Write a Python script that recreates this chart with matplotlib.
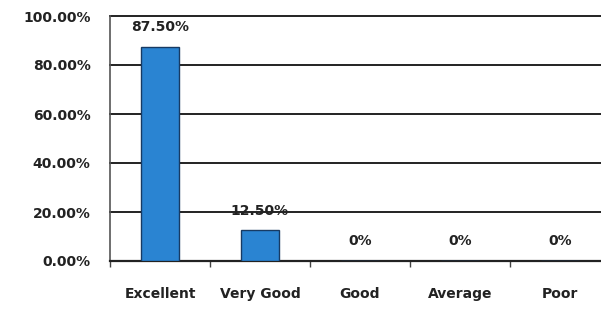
import matplotlib
matplotlib.use("Agg")
import matplotlib.pyplot as plt
from matplotlib.ticker import FuncFormatter, FixedLocator

categories = ["Excellent", "Very Good", "Good", "Average", "Poor"]
values = [0.875, 0.125, 0.0, 0.0, 0.0]
labels = ["87.50%", "12.50%", "0%", "0%", "0%"]
yticks = [0.0, 0.2, 0.4, 0.6, 0.8, 1.0]

plt.rcParams['font.family'] = ['DejaVu Sans']

fig = plt.figure(figsize=(6.01, 3.09), dpi=100)
ax = fig.add_axes([110/601, 1-261/309, 500/601, 245/309])

x = list(range(len(categories)))
ax.bar(x, values, width=0.38, color='#2a84d2', edgecolor='#173a63', linewidth=1.0, zorder=3)

ax.set_xlim(-0.5, 4.5)
ax.set_ylim(0, 1.0)
ax.set_yticks(yticks)
ax.yaxis.set_major_formatter(FuncFormatter(lambda v, p: f"{v*100:.2f}%"))
for t in yticks[1:]:
    ax.axhline(t, color='#222222', linewidth=1.4, zorder=1, clip_on=False)

fs = 10
ax.set_xticks(x)
ax.set_xticklabels(categories)
ax.xaxis.set_minor_locator(FixedLocator([i + 0.5 for i in range(-1, 5)]))
ax.tick_params(axis='x', which='major', length=0, pad=19, labelsize=fs)
ax.tick_params(axis='x', which='minor', length=4, width=1, color='#444444', direction='out')
ax.tick_params(axis='y', length=0, pad=14, labelsize=fs)
for lab in ax.get_xticklabels() + ax.get_yticklabels():
    lab.set_fontweight('bold')
    lab.set_color('#222222')

for s in ['top', 'right']:
    ax.spines[s].set_visible(False)
ax.spines['left'].set_color('#555555')
ax.spines['left'].set_linewidth(1.2)
ax.spines['bottom'].set_color('#222222')
ax.spines['bottom'].set_linewidth(1.6)

for xi, v, lab in zip(x, values, labels):
    ax.text(xi, v + 0.08, lab, ha='center', va='center', fontsize=fs,
            fontweight='bold', color='#222222', zorder=4)

fig.savefig("out.png", dpi=100)
